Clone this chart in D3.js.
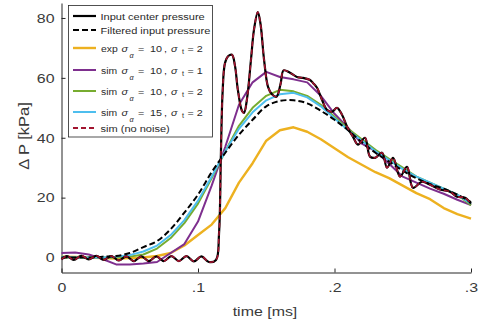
<!DOCTYPE html>
<html>
<head>
<meta charset="utf-8">
<script src="https://cdn.jsdelivr.net/npm/d3@7"></script>
<style>
  html, body { margin: 0; padding: 0; background: #fff; }
  svg { display: block; font-family: "Liberation Sans", Arial, sans-serif; }
</style>
</head>
<body>
<svg id="chart" width="481" height="327"></svg>
<script>
// ---- data (time in ms, pressure in kPa) ----
const coarseTime = d3.range(0, 31).map(i => +(i * 0.01).toFixed(2));

const expS10T2   = [0.3, 0.2, 0, -0.2, -0.3, -0.2, 0, 0.5, 1.5, 4, 7.5, 11, 16.5, 25, 31.5, 39, 42.5, 43.5, 42, 39.5, 36.5, 33.5, 31, 28.5, 26.5, 24, 21.5, 19.5, 16.5, 14.5, 13];
const simS10T1   = [1.5, 1.7, 1, -0.5, -2.3, -2.3, -2, -1.5, 1.5, 4.5, 12, 24, 37, 51, 58.5, 62, 60.3, 59.5, 58.5, 54, 48, 43.3, 38, 35.5, 31.3, 27, 25, 23, 21.3, 19.3, 17.5];
const simS10T2   = [0, 0, 0, 0, 0, 0.3, 1, 3, 6.5, 11.5, 18, 26.5, 35.5, 44, 50, 54, 56, 55.5, 54, 51, 47, 43, 39.5, 36, 33, 30, 27, 25, 23, 21, 17.5];
const simS15T2   = [0.3, 0, 0, 0, 0.3, 0.8, 2, 4, 7.5, 12.5, 19, 27, 35.5, 43, 48.5, 52.5, 54.5, 55, 53.5, 50.5, 46.5, 42.5, 39, 35.5, 32.5, 29.5, 27, 25, 23, 21, 18];
const filteredInput = [0, 0, 0, 0.3, 0.5, 1.5, 3.5, 5.5, 9.5, 15, 21, 28.5, 35, 41, 46, 50.5, 52.3, 52.5, 51.5, 49, 46, 42.5, 38.5, 35, 32, 29, 26.5, 24.5, 23, 21, 18.5];

const inputTime = [0, 0.004, 0.009, 0.0145, 0.020, 0.0255, 0.031, 0.0365, 0.042, 0.0475, 0.053, 0.0585, 0.064, 0.0695, 0.075, 0.0805, 0.086, 0.0915, 0.097, 0.1025, 0.108, 0.1132,
  0.1154, 0.1168, 0.118, 0.1198, 0.1222, 0.1249, 0.1271, 0.1292, 0.1322, 0.1337, 0.1359, 0.1388, 0.141, 0.1438, 0.1458, 0.1484, 0.1513, 0.1542, 0.1575, 0.1605, 0.1627,
  0.1674, 0.1725, 0.1769, 0.1821, 0.1842, 0.1872, 0.1908, 0.1945, 0.1982, 0.2018, 0.2055, 0.2092, 0.2136, 0.2172, 0.2223, 0.226, 0.2297, 0.2348, 0.2385, 0.2429,
  0.248, 0.2531, 0.2575, 0.2641, 0.27, 0.2773, 0.2846, 0.2897, 0.2956, 0.3];
const inputCenter = [-0.6, 0.5, -0.8, 0.6, -0.6, 0.6, -0.8, 0.5, -1.0, 0.4, -1.2, 0.4, -1.2, 0.4, -1.2, 0.5, -1.2, 0.5, -1.3, 0.4, -1.5, -0.8,
  8, 35, 55, 65, 67.3, 67.7, 64, 56, 49, 48.3, 53, 66, 76, 82, 78, 66, 57, 54.5, 53.7, 58, 62.5,
  61.7, 60.3, 60, 59.3, 58.3, 56.7, 52.7, 49.3, 48.7, 50, 47.7, 43.7, 40.3, 37.7, 40, 33.7, 33.3, 35, 30, 33.3,
  27, 30.3, 23.3, 25.3, 24.3, 22.7, 22, 20.3, 20, 18];
const simNoNoise = inputCenter.slice();

const xTicks = [0, 0.1, 0.2, 0.3];
const xTickLabels = ["0", ".1", ".2", ".3"];
const yTicks = [0, 20, 40, 60, 80];

// ---- layout ----
const svg = d3.select("#chart");
const axisColor = "#262626";
const textColor = "#3a3a3a";
const STRETCH = 1.18;
function stretch(sel, k) {
  sel.each(function () {
    const L = this.getComputedTextLength();
    if (L > 0) d3.select(this).attr("textLength", L * k).attr("lengthAdjust", "spacingAndGlyphs");
  });
}

const x = d3.scaleLinear().domain([0, 0.3]).range([61.5, 471]);
const y = d3.scaleLinear().domain([-5, 85]).range([272.5, 3]);

// axes (MATLAB style, ticks inward)
const xAxis = svg.append("g").attr("transform", "translate(0,272.5)")
  .call(d3.axisBottom(x).tickValues(xTicks).tickFormat((d, i) => xTickLabels[i]).tickSizeInner(-4).tickSizeOuter(0).tickPadding(10));
const yAxis = svg.append("g").attr("transform", "translate(61.5,0)")
  .call(d3.axisLeft(y).tickValues(yTicks).tickSizeInner(-4).tickSizeOuter(0).tickPadding(7));
[xAxis, yAxis].forEach(g => {
  g.attr("font-size", 13.5).attr("font-family", "Liberation Sans, Arial, sans-serif");
  g.select(".domain").attr("stroke", axisColor).attr("stroke-width", 1);
  g.selectAll(".tick line").attr("stroke", axisColor);
  g.selectAll(".tick text").attr("fill", textColor).attr("font-size", 13.5);
  stretch(g.selectAll(".tick text"), STRETCH);
});

const xl = svg.append("text").attr("x", 265).attr("y", 316).attr("text-anchor", "middle")
  .attr("font-size", 13.5).attr("fill", textColor).text("time [ms]");
stretch(xl, STRETCH);
const yl = svg.append("text").attr("transform", "translate(29,136) rotate(-90)").attr("text-anchor", "middle")
  .attr("font-size", 15).attr("fill", textColor).text("Δ P [kPa]");
stretch(yl, 1.1);

// ---- lines ----
const lineC = d3.line().x(d => x(d[0])).y(d => y(d[1]));
const lineS = d3.line().x(d => x(d[0])).y(d => y(d[1])).curve(d3.curveCatmullRom.alpha(0.5));
const zip = (t, v) => t.map((d, i) => [d, v[i]]);

const series = [
  {name: "exp", data: zip(coarseTime, expS10T2), color: "#EDB120", width: 2.4, dash: null, gen: lineC},
  {name: "sim1", data: zip(coarseTime, simS10T1), color: "#7E2F8E", width: 2, dash: null, gen: lineC},
  {name: "sim2", data: zip(coarseTime, simS10T2), color: "#77AC30", width: 2, dash: null, gen: lineC},
  {name: "sim3", data: zip(coarseTime, simS15T2), color: "#4DBEEE", width: 2, dash: null, gen: lineC},
  {name: "filt", data: zip(coarseTime, filteredInput), color: "#000", width: 2, dash: "6,3", gen: lineS},
  {name: "input", data: zip(inputTime, inputCenter), color: "#000", width: 2.2, dash: null, gen: lineS},
  {name: "nonoise", data: zip(inputTime, simNoNoise), color: "#A2142F", width: 1.6, dash: "5,3", gen: lineS},
];
svg.append("g").selectAll("path").data(series).join("path")
  .attr("d", s => s.gen(s.data))
  .attr("fill", "none")
  .attr("stroke", s => s.color)
  .attr("stroke-width", s => s.width)
  .attr("stroke-dasharray", s => s.dash)
  .attr("stroke-linejoin", "round");

// ---- legend ----
const lg = svg.append("g");
lg.append("rect").attr("x", 68.5).attr("y", 5.5).attr("width", 144).attr("height", 131.5)
  .attr("fill", "#fff").attr("stroke", axisColor).attr("stroke-width", 0.8);

const legendRows = [
  {y: 16, color: "#000", dash: null, width: 2.2, label: "Input center pressure"},
  {y: 30, color: "#000", dash: "6,3", width: 2, label: "Filtered input pressure"},
  {y: 48, color: "#EDB120", dash: null, width: 2.4, pre: "exp", a: "10", t: "2"},
  {y: 70, color: "#7E2F8E", dash: null, width: 2, pre: "sim", a: "10", t: "1"},
  {y: 91, color: "#77AC30", dash: null, width: 2, pre: "sim", a: "10", t: "2"},
  {y: 112, color: "#4DBEEE", dash: null, width: 2, pre: "sim", a: "15", t: "2"},
  {y: 128, color: "#A2142F", dash: "5,3", width: 1.8, label: "sim (no noise)"},
];
const LFS = 9.6;
legendRows.forEach(r => {
  lg.append("line").attr("x1", 73).attr("x2", 96).attr("y1", r.y).attr("y2", r.y)
    .attr("stroke", r.color).attr("stroke-width", r.width).attr("stroke-dasharray", r.dash);
  const base = r.y + 3.5;
  if (r.label) {
    const tx = lg.append("text").attr("x", 100.5).attr("y", base).attr("font-size", LFS).attr("fill", "#2a2a2a").text(r.label);
    stretch(tx, 1.15);
  } else {
    const t = lg.append("text").attr("font-size", LFS).attr("fill", "#2a2a2a");
    const parts = [];
    parts.push(t.append("tspan").attr("x", 101).attr("y", base).text(r.pre));
    parts.push(t.append("tspan").attr("x", 121.5).attr("y", base).attr("font-style", "italic").text("σ"));
    parts.push(t.append("tspan").attr("x", 129.5).attr("y", base + 6).attr("font-size", 6.5).attr("font-style", "italic").text("α"));
    parts.push(t.append("tspan").attr("x", 138).attr("y", base).text("="));
    parts.push(t.append("tspan").attr("x", 150).attr("y", base).text(r.a));
    parts.push(t.append("tspan").attr("x", 164).attr("y", base).text(","));
    parts.push(t.append("tspan").attr("x", 171).attr("y", base).attr("font-style", "italic").text("σ"));
    parts.push(t.append("tspan").attr("x", 182).attr("y", base + 2.5).attr("font-size", 6.5).text("t"));
    parts.push(t.append("tspan").attr("x", 187.5).attr("y", base).text("= " + r.t));
    parts.forEach((p, i) => stretch(p, i === 0 ? 1.08 : 1.12));
  }
});
</script>
</body>
</html>
